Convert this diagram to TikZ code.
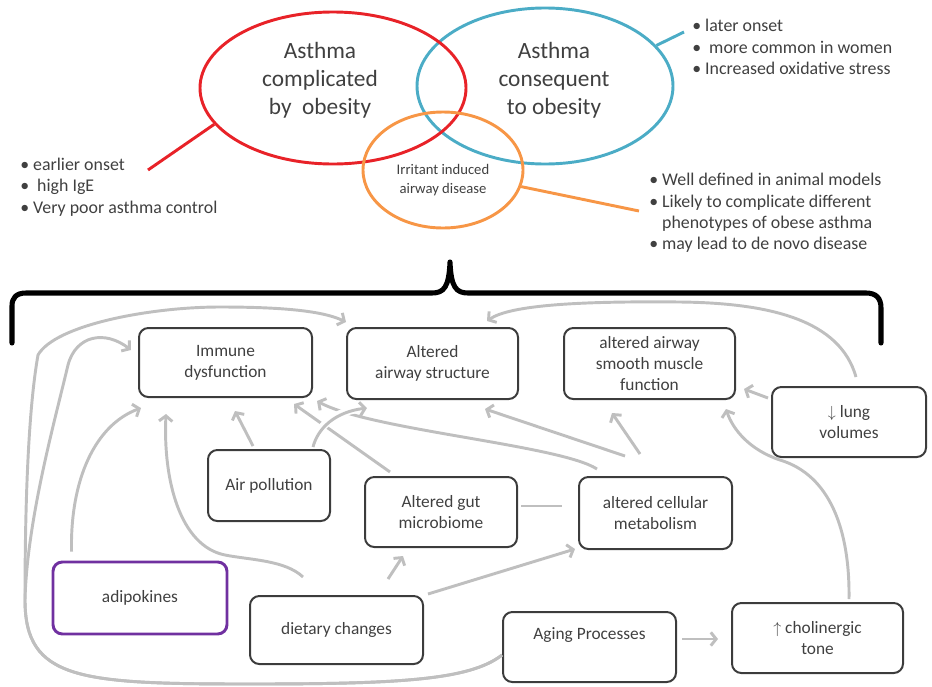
\documentclass[tikz,border=0pt]{standalone}
\usepackage{fontspec}
\setmainfont{Carlito}
\usetikzlibrary{shapes.geometric,arrows.meta,calc}
\definecolor{vennred}{RGB}{232,34,40}
\definecolor{vennblue}{RGB}{75,172,198}
\definecolor{vennorange}{RGB}{247,150,70}
\definecolor{adipurple}{RGB}{112,48,160}
\definecolor{boxgray}{RGB}{60,60,60}
\definecolor{linkgray}{RGB}{191,191,191}
\definecolor{textgray}{RGB}{64,64,64}

\begin{document}
\begin{tikzpicture}[x=0.75pt, y=-0.75pt,
                    factor/.style={draw=boxgray, line width=1.5pt, rounded corners=7pt, align=center,
                                   inner sep=0pt, text=textgray, font=\fontsize{13}{16}\selectfont},
                    venn/.style={ellipse, line width=2.2pt, inner sep=0pt},
                    venn text/.style={align=center, text=textgray, font=\fontsize{17.5}{21}\selectfont},
                    notes/.style={anchor=west, align=left, inner sep=0pt, text=textgray,
                                  font=\fontsize{13.4}{16}\selectfont},
                    link/.style={draw=linkgray, line width=2.2pt, -{Straight Barb[length=4pt,width=10pt]}}]

  \useasboundingbox (0,0) rectangle (932,686);

  \node[venn, draw=vennblue, minimum width=192pt, minimum height=117pt] (conseq) at (545,86) {};
  \node[venn, draw=vennred, minimum width=199.5pt, minimum height=114pt] (compl) at (333,88) {};
  \node[venn, draw=vennorange, minimum width=120pt, minimum height=87pt] (irr) at (443,170) {};

  \node[venn text] (compltext) at (320,80) {Asthma\\complicated\\by~ obesity};
  \node[venn text] (conseqtext) at (554,80) {Asthma\\consequent\\to obesity};
  \node[align=center, text=textgray, font=\fontsize{11}{14.5}\selectfont] (irrtext) at (443,180) {Irritant induced\\airway disease};

  \node[notes] (complnotes) at (20,187) {• earlier onset\\•\ \ high IgE\\• Very poor asthma control};
  \node[notes] (conseqnotes) at (692,47) {• later onset\\•\ \ more common in women\\• Increased oxidative stress};
  \node[notes] (irrnotes) at (649,213) {• Well defined in animal models\\• Likely to complicate different\\\hphantom{• }phenotypes of obese asthma\\• may lead to de novo disease};

  \coordinate (rednote) at (148,170);
  \coordinate (bluenote) at (684,32);
  \coordinate (orangenote) at (639,211);
  \draw[vennred, line width=2.2pt] (compl.197) -- (rednote);
  \draw[vennblue, line width=2.2pt] (conseq.20) -- (bluenote);
  \draw[vennorange, line width=2.2pt] (irr.348) -- (orangenote);

  \draw[line width=3.8pt, line cap=round, line join=round]
    (12,343) -- (12,306) .. controls (12,298) and (16,293) .. (26,293) -- (432,293)
    .. controls (444,293) and (449,287) .. (450,262) .. controls (451,287) and (456,293) .. (468,293)
    -- (866,293) .. controls (876,293) and (881,298) .. (881,308) -- (881,343);

  \node[factor, minimum width=129.75pt, minimum height=51.75pt] (immune) at (225.5,362.5) {Immune\\dysfunction};
  \node[factor, minimum width=128.25pt, minimum height=53.25pt] (airway) at (432.5,363.5) {Altered\\airway structure};
  \node[factor, minimum width=128.25pt, minimum height=53.25pt] (smooth) at (649.5,363.5) {altered airway\\smooth muscle\\function};
  \node[factor, minimum width=115.5pt, minimum height=52.5pt] (lung) at (849,422) {$\downarrow$ lung\\volumes};
  \node[factor, minimum width=91.5pt, minimum height=53.25pt] (air) at (269,485.5) {Air pollution};
  \node[factor, minimum width=114pt, minimum height=52.5pt] (gut) at (441,512) {Altered gut\\microbiome};
  \node[factor, minimum width=114.75pt, minimum height=54pt] (meta) at (655.5,513) {altered cellular\\metabolism};
  \node[factor, draw=adipurple, line width=2.2pt, minimum width=130.5pt, minimum height=54pt] (adipo) at (140,598) {adipokines};
  \node[factor, minimum width=129.75pt, minimum height=51pt] (diet) at (336.5,630) {dietary changes};
  \node[factor, minimum width=129.75pt, minimum height=52.5pt] (aging) at (589.5,647) {Aging Processes\\\strut};
  \node[factor, minimum width=128.25pt, minimum height=52.5pt] (chol) at (817.5,638) {$\uparrow$ cholinergic\\tone};

  \draw[link] ($(air.north)+(-16,-3)$) -- ($(immune.south)+(9.5,13)$);
  \draw[link] ($(gut.north)+(-51,-4)$) -- ($(immune.south east)+(-19,6)$);
  \draw[link] ($(meta.north)+(-58.5,-7)$) .. controls (560,445) and (370,430) .. ($(immune.south east)+(4,3)$);
  \draw[link, preaction={draw=white, line width=6pt, arrows=-, shorten <=6pt, shorten >=8pt}]
    ($(air.north)+(44,-2)$) .. controls (318,428) and (335,412) .. ($(airway.south)+(-65.5,8)$);
  \draw[link] ($(meta.north)+(-30.5,-20)$) -- ($(airway.south)+(52.5,9)$);
  \draw[link] ($(meta.north)+(-15.5,-22)$) -- ($(smooth.south)+(-37.5,13)$);
  \draw[link, -] ($(gut.east)+(3,-6)$) -- ($(meta.west)+(-16,-7)$);
  \draw[link] ($(diet.north)+(51.5,-16)$) -- ($(gut.south)+(-38,8)$);
  \draw[link] ($(diet.north east)+(4,-1)$) -- ($(meta.south west)+(-3,-1)$);
  \draw[link] ($(diet.north)+(-33.5,-18)$) .. controls (285,560) and (250,560) .. (225,555)
    .. controls (180,546) and (163,480) .. ($(immune.south)+(-59.5,16)$);
  \draw[link] ($(adipo.north west)+(20,-9)$) .. controls (70,480) and (95,425) .. ($(immune.south west)+(3,10)$);
  \draw[link] ($(lung.west)+(-3,-24)$) -- ($(smooth.south east)+(8,-11)$);
  \draw[link] ($(lung.north)+(7,-9)$) .. controls (840,320) and (770,303) .. (680,302)
    .. controls (580,301) and (510,305) .. ($(airway.north east)+(-32,-6)$);
  \draw[link] ($(chol.north)+(31.5,-3)$) .. controls (850,530) and (830,475) .. (780,460)
    .. controls (750,450) and (733,430) .. ($(smooth.south east)+(-10,9)$);
  \draw[link] ($(aging.east)+(5,-8)$) -- ($(chol.west)+(-13,1)$);
  \draw[link] ($(aging.west)+(0,8)$) .. controls (470,680) and (400,684) .. (250,684)
    .. controls (80,684) and (25,680) .. (25,600) .. controls (25,480) and (30,400) .. (38,355)
    .. controls (55,325) and (150,307) .. (220,307) .. controls (290,307) and (325,312) .. ($(airway.north west)+(0,-5)$);
  \draw[link] ($(aging.west)+(0,8)$) .. controls (470,680) and (400,684) .. (250,684)
    .. controls (80,684) and (25,680) .. (25,600) .. controls (27,520) and (55,420) .. (68,365)
    .. controls (76,335) and (105,330) .. ($(immune.west)+(-7,-12.5)$);

\end{tikzpicture}
\end{document}
